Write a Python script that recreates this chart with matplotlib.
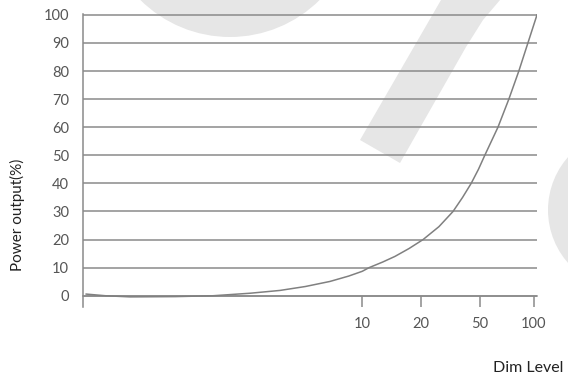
import matplotlib
matplotlib.use("Agg")
import matplotlib.pyplot as plt
from matplotlib.patches import Circle, Polygon
import numpy as np

# data
# x is position along the dim axis (0 = left edge, 100 = right edge)
dim_pos = [0.7, 5.0, 10.4, 20.3, 28.6, 36.8, 43.4, 49.0, 54.4, 58.5, 61.5, 63.0,
           66.0, 68.7, 71.8, 74.9, 78.4, 81.5, 83.6, 85.5, 87.1, 88.5,
           91.4, 93.8, 96.0, 98.0, 100.0]
power = [0.6, 0.0, -0.4, -0.3, 0.0, 0.9, 1.9, 3.3, 5.1, 7.0, 8.7, 10.0,
         12.0, 14.0, 16.8, 20.0, 24.6, 30.0, 35.0, 40.0, 45.0, 50.0,
         60.0, 70.0, 80.0, 90.0, 100.0]
dim_tick_pos = [61.5, 74.4, 87.4, 99.3]
dim_tick_labels = ["10", "20", "50", "100"]
power_ticks = list(range(0, 101, 10))

line_col = "#8a8a8a"
text_col = "#555555"
wm_col = "#e6e6e6"

plt.rcParams['font.family'] = ['Lato', 'DejaVu Sans']

fig = plt.figure(figsize=(5.68, 3.82), dpi=100)

# watermark in the background (pixel coords)
bg = fig.add_axes([0, 0, 1, 1], zorder=0)
bg.set_xlim(0, 568)
bg.set_ylim(382, 0)
bg.axis("off")
bg.add_patch(Circle((230, -90), 127, color=wm_col, lw=0))
bg.add_patch(Circle((628, 210), 80, color=wm_col, lw=0))
bg.add_patch(Polygon([(441, 0), (500, 0), (483, 20), (466, 47), (400, 163), (360, 140)],
                     closed=True, color=wm_col, lw=0))

ax = fig.add_axes([83/568, 1-307/382, 454/568, 293/382], zorder=1)
ax.patch.set_alpha(0)

for v in power_ticks:
    ax.axhline(v, color=line_col, lw=1.1, zorder=1)

ax.plot(dim_pos, power, color="#808080", lw=1.1, zorder=3)

ax.set_xlim(0, 100)
ax.set_ylim(-4, 100.3)

ax.set_yticks(power_ticks)
ax.set_yticklabels([str(v) for v in power_ticks])
ax.set_xticks(dim_tick_pos)
ax.set_xticklabels(dim_tick_labels)

for s in ["top", "right"]:
    ax.spines[s].set_visible(False)
ax.spines["bottom"].set_position(("data", 0))
ax.spines["bottom"].set_color(line_col)
ax.spines["bottom"].set_linewidth(1.1)
ax.spines["left"].set_color(line_col)
ax.spines["left"].set_linewidth(1.1)

ax.tick_params(axis="y", length=0, pad=10, labelsize=10.5, labelcolor=text_col)
ax.tick_params(axis="x", direction="out", length=8, width=1.1, color=line_col,
               pad=7, labelsize=10.5, labelcolor=text_col)

fig.text(17/568, 1-215/382, "Power output(%)", rotation=90, ha="center", va="center",
         fontsize=11, color="#222222")
fig.text(563/568, 1-368/382, "Dim Level", ha="right", va="center",
         fontsize=11.5, color="#222222")

fig.savefig("out.png", dpi=100)
